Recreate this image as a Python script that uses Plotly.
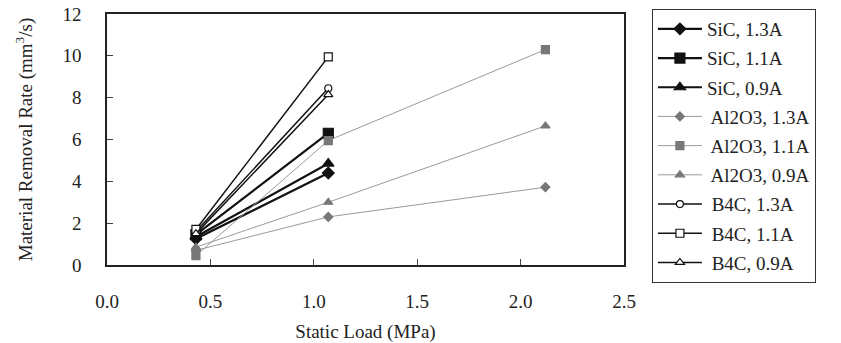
import plotly.graph_objects as go

# Data
load_sic = [0.43, 1.07]
sic_13 = [1.25, 4.40]
sic_11 = [1.45, 6.30]
sic_09 = [1.35, 4.85]

load_al = [0.43, 1.07, 2.12]
al_13 = [0.70, 2.30, 3.72]
al_11 = [0.45, 5.95, 10.30]
al_09 = [0.85, 3.00, 6.65]

load_b4c = [0.43, 1.07]
b4c_13 = [1.60, 8.45]
b4c_11 = [1.70, 9.95]
b4c_09 = [1.50, 8.15]

names = ["SiC, 1.3A", "SiC, 1.1A", "SiC, 0.9A",
         " Al2O3, 1.3A", " Al2O3, 1.1A", " Al2O3, 0.9A",
         " B4C, 1.3A", " B4C, 1.1A", " B4C, 0.9A"]

FONT = "Liberation Serif"
BLACK = "#111111"
GRAY_M = "#777777"
GRAY_L = "#9a9a9a"

fig = go.Figure()

series = [
    (load_sic, sic_13, names[0], "diamond", BLACK, BLACK, 2.2, 9, BLACK),
    (load_sic, sic_11, names[1], "square", BLACK, BLACK, 2.2, 10, BLACK),
    (load_sic, sic_09, names[2], "triangle-up", BLACK, BLACK, 2.2, 10, BLACK),
    (load_al, al_13, names[3], "diamond", GRAY_L, GRAY_M, 1.0, 7, GRAY_M),
    (load_al, al_11, names[4], "square", GRAY_L, GRAY_M, 1.0, 8, GRAY_M),
    (load_al, al_09, names[5], "triangle-up", GRAY_L, GRAY_M, 1.0, 8, GRAY_M),
    (load_b4c, b4c_13, names[6], "circle", BLACK, "white", 1.5, 7, BLACK),
    (load_b4c, b4c_11, names[7], "square", BLACK, "white", 1.5, 8, BLACK),
    (load_b4c, b4c_09, names[8], "triangle-up", BLACK, "white", 1.5, 8, BLACK),
]

for i, (xs, ys, nm, sym, lc, fc, lw, ms, mlc) in enumerate(series):
    fig.add_trace(go.Scatter(
        x=xs, y=ys, name=nm, mode="lines+markers",
        legendgroup=f"g{i}",
        line=dict(color=lc, width=lw),
        marker=dict(symbol=sym, size=ms, color=fc,
                    line=dict(color=mlc, width=1.2)),
    ))

axis_common = dict(
    showgrid=False, zeroline=False, showline=True, linecolor="#222",
    linewidth=1.5, mirror=True, ticks="inside", ticklen=6, tickcolor="#444",
    tickfont=dict(family=FONT, size=19, color="#222"),
)

fig.update_layout(
    width=841, height=343,
    margin=dict(l=107, r=217, t=14, b=78, autoexpand=False),
    paper_bgcolor="white", plot_bgcolor="white",
    font=dict(family=FONT, color="#222"),
    xaxis=dict(range=[0, 2.5], tickvals=[0, 0.5, 1.0, 1.5, 2.0, 2.5],
               ticktext=["0.0", "0.5", "1.0", "1.5", "2.0", "2.5"],
               ticklabelstandoff=18,
               title=dict(text="Static Load (MPa)",
                          font=dict(family=FONT, size=19, color="#222"),
                          standoff=15),
               **axis_common),
    yaxis=dict(range=[0, 12], tickvals=[0, 2, 4, 6, 8, 10, 12],
               ticklabelstandoff=20,
               title=dict(text="Material Removal Rate (mm<sup>3</sup>/s)",
                          font=dict(family=FONT, size=19, color="#222"),
                          standoff=25),
               **axis_common),
    legend=dict(x=1.054, y=1.02, xanchor="left", yanchor="top",
                bordercolor="#333", borderwidth=1, bgcolor="white",
                font=dict(family=FONT, size=19, color="#222"),
                itemwidth=44,
                traceorder="grouped", tracegroupgap=1.5, maxheight=340),
    showlegend=True,
)

fig.write_html("out.html")
